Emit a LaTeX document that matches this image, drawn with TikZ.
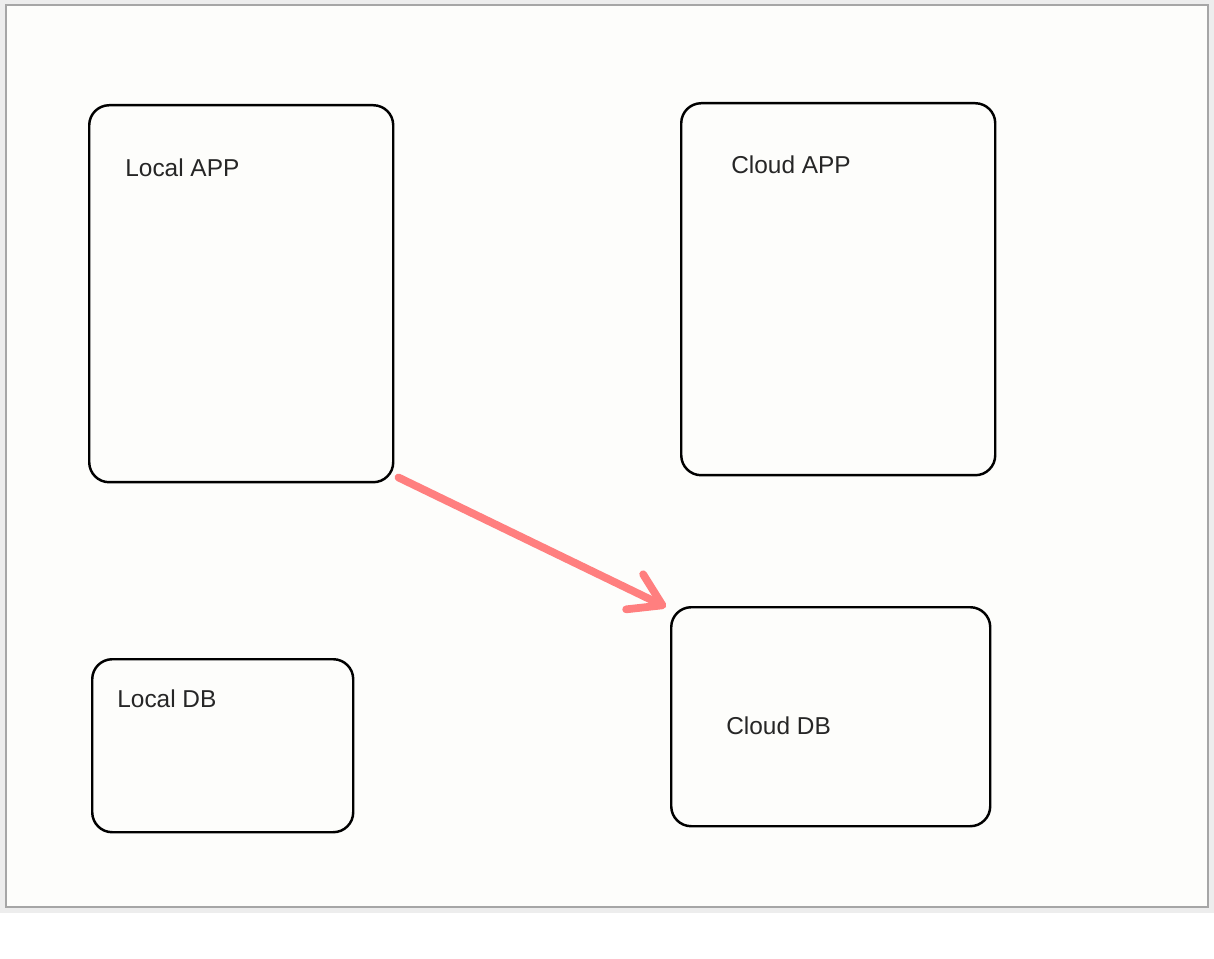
\documentclass[tikz,border=0pt]{standalone}
\usepackage{fontspec}
\setmainfont{Liberation Sans}
\usetikzlibrary{arrows.meta}

\tikzset{
  box/.style={draw=black, line width=1.4pt, rounded corners=0.4cm, inner sep=0pt},
  lbl/.style={anchor=west, inner sep=0pt, font=\fontsize{13.9}{16}\selectfont, text=black!85},
  flow/.style={draw={rgb,255:red,255;green,127;blue,127}, line width=4.4pt, line cap=round,
    -{Straight Barb[length=0.62cm, width=0.78cm, round]}}
}

\begin{document}
\begin{tikzpicture}[x=0.02cm, y=-0.02cm]

% fondo e cornice
\useasboundingbox (0,0) rectangle (1214,959);
\fill[white] (0,0) rectangle (1214,959);
\fill[black!7] (0,0) rectangle (1214,913);
\draw[black!35, line width=1.2pt, fill={rgb,255:red,253;green,253;blue,251}] (6,5) rectangle (1208,907);

% riquadri
\node[box, minimum width=304*0.02cm, minimum height=377*0.02cm, anchor=north west] (lapp) at (88,104) {};
\node[box, minimum width=314*0.02cm, minimum height=372*0.02cm, anchor=north west] (capp) at (680,102) {};
\node[box, minimum width=261*0.02cm, minimum height=173*0.02cm, anchor=north west] (ldb) at (91,658) {};
\node[box, minimum width=319*0.02cm, minimum height=219*0.02cm, anchor=north west] (cdb) at (670,606) {};

% etichette
\node[lbl] (lapptxt) at ([shift={(37,64)}]lapp.north west) {Local APP};
\node[lbl] (capptxt) at ([shift={(51,63)}]capp.north west) {Cloud APP};
\node[lbl] (ldbtxt) at ([shift={(26,41)}]ldb.north west) {Local DB};
\node[lbl] (cdbtxt) at ([shift={(56,120)}]cdb.north west) {Cloud DB};

% freccia
\coordinate (from) at ([shift={(4,-6)}]lapp.south east);
\coordinate (to) at ([shift={(-4,1)}]cdb.north west);
\draw[flow] (from) -- (to);

\end{tikzpicture}
\end{document}
